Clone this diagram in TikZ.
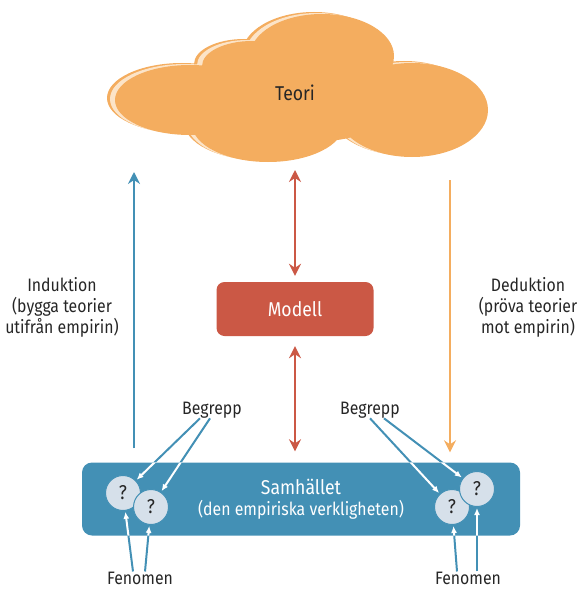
\documentclass[tikz,border=0pt]{standalone}
\usepackage{fontspec}
\setmainfont{Fira Sans}[FakeStretch=0.88]
\usetikzlibrary{arrows.meta,positioning}
\definecolor{teoriColor}{HTML}{F4AD5F}
\definecolor{rimColor}{HTML}{FCE4C8}
\definecolor{modellColor}{HTML}{CB5845}
\definecolor{samColor}{HTML}{4390B5}
\definecolor{fenColor}{HTML}{D6E0EA}
\newcommand{\bigfont}{\fontsize{20}{24}\selectfont}
\tikzset{
	label text/.style={align=center, inner sep=0pt, text=black!85},
	modell box/.style={fill=modellColor, rounded corners=8pt, minimum width=157pt, minimum height=54pt, text=white, font=\bigfont},
	sam box/.style={fill=samColor, rounded corners=10pt, minimum width=438pt, minimum height=73pt, text=white, align=center, inner sep=0pt},
	question/.style={circle, fill=fenColor, draw=samColor, line width=1pt, minimum size=35pt, inner sep=0pt, text=black!85, font=\bigfont},
	big arrow/.style={line width=2.8pt, ->, >={Stealth[length=12pt,width=12pt,inset=4pt]}},
	small arrow/.style={line width=2pt, ->, >={Latex[length=7pt,width=6pt]}, shorten >=1pt}
}
\newcommand{\conceptArrows}[1]{
	\draw[small arrow, #1] ([xshift=-12pt]begL.south) -- (q1);
	\draw[small arrow, #1] ([xshift=-2pt]begL.south) -- (q2);
	\draw[small arrow, #1] ([xshift=0pt]begR.south) -- (q3);
	\draw[small arrow, #1] ([xshift=14pt]begR.south) -- (q4);
	\draw[small arrow, #1] ([xshift=-7pt]fenL.north) -- (q1);
	\draw[small arrow, #1] ([xshift=5pt]fenL.north) -- (q2);
	\draw[small arrow, #1] ([xshift=-11pt]fenR.north) -- (q3);
	\draw[small arrow, #1] ([xshift=9pt]fenR.north) -- (q4);
}

\begin{document}
\begin{tikzpicture}[x=1pt, y=-1pt, font=\fontsize{18}{21}\selectfont]
	\useasboundingbox (0,0) rectangle (588,599);
	% cloud
	\foreach \dx/\dy/\col in {-8/-2/teoriColor, -5/-1/rimColor, 0/0/teoriColor} {
		\fill[\col, shift={(\dx,\dy)}]
			(190,100) ellipse (75 and 35)
			(252,66) ellipse (50 and 25)
			(322,56) ellipse (72 and 42)
			(412,110) ellipse (76 and 47)
			(268,124) ellipse (76 and 38)
			(310,100) ellipse (90 and 42);
	}
	\node[label text, font=\bigfont] at (295,93) (teori) {Teori};
	\coordinate (cloud bottom) at (295,166);
	\coordinate (cloud left) at (134,172);
	\coordinate (cloud right) at (450,180);

	\node[modell box] at (295,309) (modell) {Modell};
	\node[sam box] at (301,499) (samhalle) {{\bigfont Samhället}\\(den empiriska verkligheten)};

	\node[label text] at (62,307) (induktion) {Induktion\\(bygga teorier\\utifrån empirin)};
	\node[label text] at (528,307) (deduktion) {Deduktion\\(pröva teorier\\mot empirin)};

	\node[label text] at (212,410) (begL) {Begrepp};
	\node[label text] at (370,410) (begR) {Begrepp};
	\node[label text] at (140,578) (fenL) {Fenomen};
	\node[label text] at (468,578) (fenR) {Fenomen};

	\node[question] at (123,493) (q1) {?};
	\node[question] at (151,507) (q2) {?};
	\node[question] at (452,507) (q3) {?};
	\node[question] at (477,489) (q4) {?};

	\path (modell) edge[big arrow, <->, modellColor, shorten >=4pt, shorten <=6pt] (cloud bottom);
	\path (modell) edge[big arrow, <->, modellColor, shorten >=11pt, shorten <=10pt] (modell |- samhalle.north);
	\path ([yshift=14pt]cloud left |- samhalle.north) edge[big arrow, samColor] (cloud left);
	\path (cloud right) edge[big arrow, teoriColor, shorten >=10pt] (cloud right |- samhalle.north);

	\conceptArrows{samColor}
	\begin{scope}
		\clip[rounded corners=10pt] (samhalle.south west) rectangle (samhalle.north east);
		\conceptArrows{white}
	\end{scope}
	\foreach \q in {q1,q2,q3,q4} \node[question] at (\q) {?};
\end{tikzpicture}
\end{document}
